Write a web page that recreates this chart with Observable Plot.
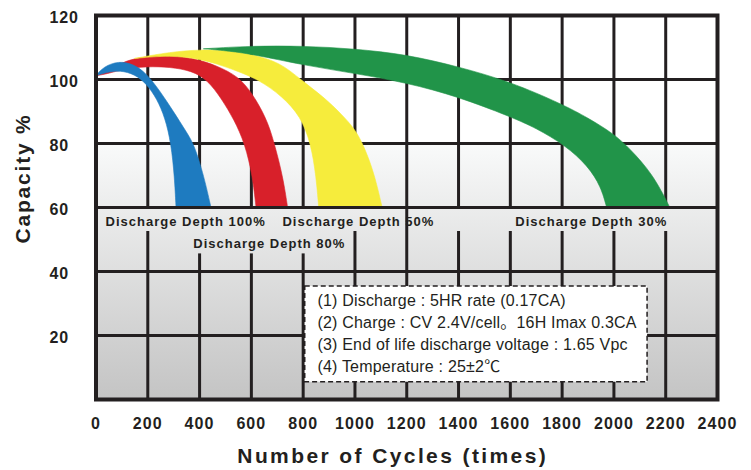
<!DOCTYPE html>
<html>
<head>
<meta charset="utf-8">
<script src="https://cdn.jsdelivr.net/npm/d3@7"></script>
<script src="https://cdn.jsdelivr.net/npm/@observablehq/plot@0.6"></script>
<style>
  html, body { margin: 0; padding: 0; background: #fff; }
  svg { font-family: "Liberation Sans", Arial, "Noto Sans CJK SC", sans-serif; }
</style>
</head>
<body>
<div id="chart"></div>
<script>
// ---- data ----
const xTicks = [0, 200, 400, 600, 800, 1000, 1200, 1400, 1600, 1800, 2000, 2200, 2400];
const yTicks = [20, 40, 60, 80, 100, 120];
const hGrid = [20, 40, 60, 80, 100];
const vGrid = [200, 400, 600, 800, 1000, 1200, 1400, 1600, 1800, 2000, 2200];

// each band: outer (upper/right) edge and inner (lower/left) edge, [cycles, capacity %]
const blueOuter = [[0,101.2],[29,104],[87,105.8],[145,104.8],[194,102],[248,96.3],[299,90],[350,83.5],[380,79.5],[417,69.7],[444,60]];
const blueInner = [[0,101.2],[40,102.2],[93,102.9],[150,101.6],[194,98.8],[235,94],[267,88],[290,80],[303,69.7],[309,60]];

const redOuter = [[0,101.2],[60,103.5],[119,106],[184,107],[250,107.5],[300,107.4],[400,106.3],[493,103.4],[564,100],[620,93.5],[665,86.5],[692,79],[722,69.5],[740,60]];
const redInner = [[0,101.2],[40,101.7],[109,103.3],[194,104.1],[287,103.9],[370,102.7],[429,100],[485,94],[533,87.5],[575,80],[605,69.7],[618,60]];

const yellowOuter = [[150,106.6],[287,108.6],[400,109.3],[500,109.2],[600,108],[712,105.3],[789,100],[880,94.5],[950,89],[1000,84.5],[1036,79],[1075,70.5],[1105,60]];
const yellowInner = [[150,106.6],[287,107.6],[400,106.4],[470,104.8],[540,102.8],[628,100],[720,94.7],[790,88.5],[830,80],[850,69.7],[860,60]];

const greenOuter = [[416,109.6],[600,110.5],[800,110.5],[1000,109.6],[1200,107.8],[1400,104],[1600,99.3],[1800,92.3],[1900,88],[2000,83],[2060,78.5],[2150,70.5],[2216,60]];
const greenInner = [[416,109.6],[500,109],[600,108],[800,104.5],[1000,101.9],[1200,99],[1400,94.6],[1600,88.4],[1700,84.8],[1811,79.5],[1900,73],[1950,66.5],[1972,60]];

const labelText = ["Discharge Depth 100%", "Discharge Depth 50%", "Discharge Depth 80%", "Discharge Depth 30%"];
const labelX = [37, 720, 376, 1619];
const labelY = [55.6, 55.6, 48.8, 55.6];

const notes = [
  "(1) Discharge : 5HR rate (0.17CA)",
  "(2) Charge : CV 2.4V/cell\u300216H Imax 0.3CA",
  "(3) End of life discharge voltage : 1.65 Vpc",
  "(4) Temperature : 25\u00b12\u2103"
];

const xTitle = "Number of Cycles (times)";
const yTitle = "Capacity %";

// ---- build ----
// closed outline: tip -> outer edge -> bottom (corners tripled so the B-spline keeps them sharp) -> inner edge -> tip
function ring(outer, inner) {
  const o = outer.slice();
  const ir = inner.slice().reverse();
  const ob = o[o.length - 1], ib = ir[0];
  const pts = [...o, ob, ob, ib, ib, ...ir];
  return pts.map(([x, y]) => ({x, y}));
}

const ink = "#231f20";
const labels = labelText.map((t, i) => ({t, x: labelX[i], y: labelY[i]}));

// vertical grid segments (the label band hides part of some lines)
const vSegs = [];
for (const x of vGrid) {
  vSegs.push({x, y1: 60, y2: 120});
  if (x === 1200) vSegs.push({x, y1: 0, y2: 60});
  else if (x === 400 || x === 600 || x === 800) vSegs.push({x, y1: 0, y2: 45.5});
  else vSegs.push({x, y1: 0, y2: 52.5});
}

function band(data, color) {
  return Plot.line(data, {x: "x", y: "y", fill: color, stroke: color, strokeWidth: 0.6, curve: "basis"});
}

const svg = Plot.plot({
  width: 751,
  height: 470,
  marginLeft: 95.5,
  marginRight: 34,
  marginTop: 15,
  marginBottom: 71,
  x: {domain: [0, 2400]},
  y: {domain: [0, 120]},
  style: {background: "white", color: ink},
  marks: [
    Plot.rect([{}], {x1: 0, x2: 2400, y1: 0, y2: 80, fill: "url(#bgGrad)"}),
    Plot.ruleY(hGrid, {stroke: ink, strokeWidth: 3}),
    Plot.ruleX(vSegs, {x: "x", y1: "y1", y2: "y2", stroke: ink, strokeWidth: 3}),
    band(ring(redOuter, redInner), "#d8202a"),
    band(ring(yellowOuter, yellowInner), "#f6ec3c"),
    band(ring(greenOuter, greenInner), "#219449"),
    band(ring(blueOuter, blueInner), "#1e7bc0"),
    Plot.ruleY([60], {stroke: ink, strokeWidth: 3}),
    Plot.text(labels, {x: "x", y: "y", text: "t", textAnchor: "start", fontSize: 13, fontWeight: "bold", fill: ink, ariaDescription: "depth-label"}),
    Plot.rect([{}], {x1: 808, x2: 2130, y1: 5.4, y2: 35.3, fill: "white", stroke: ink, strokeWidth: 1.5, strokeDasharray: "5 3"}),
    Plot.text(notes, {x: 855, y: (d, i) => 30.8 - i * 6.9, text: d => d, textAnchor: "start", fontSize: 16, fill: ink, ariaDescription: "notes"}),
    Plot.frame({stroke: ink, strokeWidth: 4}),
    Plot.axisY(yTicks, {label: null, tickSize: 0, tickPadding: 17, textAnchor: "start", dx: -29.5, fontSize: 16, fontWeight: "bold", dy: 2, ariaDescription: "y-ticks"}),
    Plot.axisX(xTicks, {label: null, tickSize: 0, tickPadding: 18, fontSize: 16, fontWeight: "bold", tickFormat: d => String(d), ariaDescription: "x-ticks"}),
    Plot.text([yTitle], {frameAnchor: "left", textAnchor: "middle", lineAnchor: "middle", dx: -73, dy: -29, rotate: -90, fontSize: 21, fontWeight: "bold", fill: ink, ariaDescription: "axis-title-y"}),
    Plot.text([xTitle], {frameAnchor: "bottom", textAnchor: "middle", lineAnchor: "middle", dx: -14, dy: 57, fontSize: 21, fontWeight: "bold", fill: ink, ariaDescription: "axis-title-x"})
  ]
});

svg.insertAdjacentHTML("afterbegin",
  '<defs><linearGradient id="bgGrad" x1="0" y1="0" x2="0" y2="1">' +
  '<stop offset="0" stop-color="#f9fafa"/><stop offset="1" stop-color="#c4c4c4"/>' +
  '</linearGradient></defs>');

const spacing = {"depth-label": "1px", "y-ticks": "0.8px", "x-ticks": "1.1px", "axis-title-y": "1.8px", "axis-title-x": "2.4px", "notes": "0.2px"};
for (const [k, v] of Object.entries(spacing)) {
  d3.select(svg).selectAll(`[aria-description="${k}"] text`).style("letter-spacing", v);
}

document.getElementById("chart").appendChild(svg);
</script>
</body>
</html>
